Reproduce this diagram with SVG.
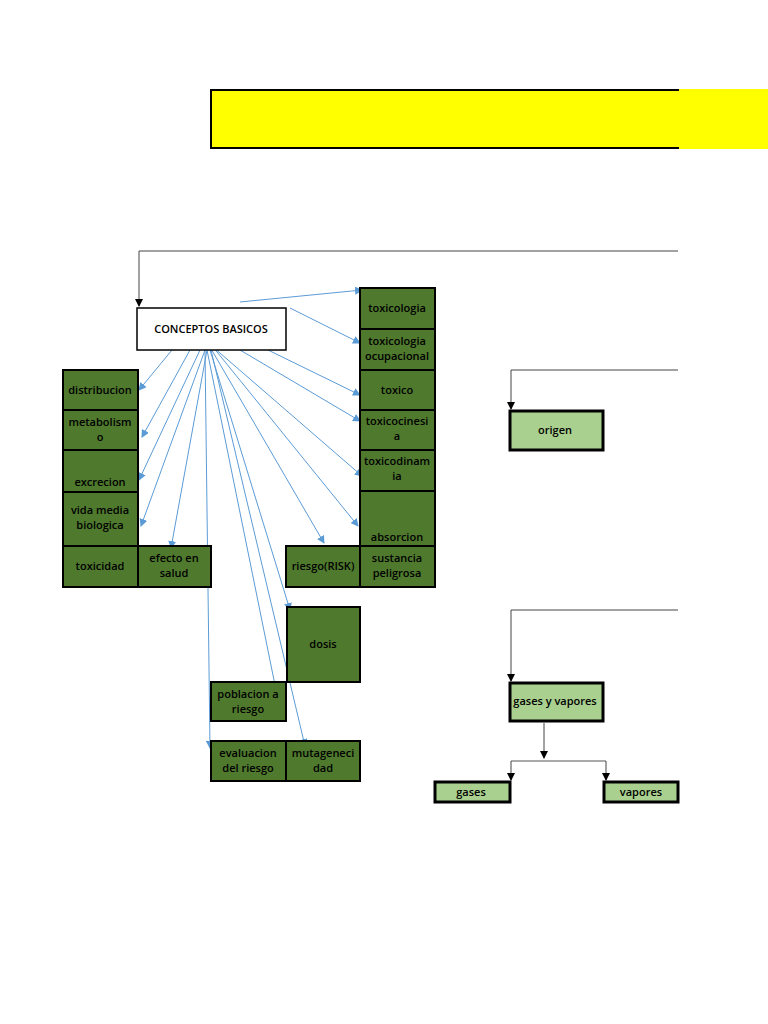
<svg xmlns="http://www.w3.org/2000/svg" width="768" height="1024" viewBox="0 0 768 1024">
<defs>
<marker id="b" markerWidth="8" markerHeight="8" refX="7" refY="4" orient="auto" markerUnits="userSpaceOnUse"><path d="M0,0L8,4L0,8z" fill="#5b9bd5"/></marker>
<marker id="k" markerWidth="8" markerHeight="8" refX="7" refY="4" orient="auto" markerUnits="userSpaceOnUse"><path d="M0,0L8,4L0,8z" fill="#000"/></marker>
</defs>
<style>
.d{fill:#4f7a2e;stroke:#000;stroke-width:2}
.l{fill:#a9d08e;stroke:#000;stroke-width:3}
text{font-family:"Open Sans","Liberation Sans",sans-serif;font-size:11px;font-weight:600;fill:#000;text-anchor:middle}
.bl{stroke:#5b9bd5;stroke-width:1;fill:none;marker-end:url(#b)}
.bk{stroke:#444;stroke-width:1;fill:none;marker-end:url(#k)}
.bn{stroke:#555;stroke-width:1;fill:none}
</style>
<rect x="678" y="89" width="90" height="60" fill="#ffff00"/>
<rect x="211" y="90" width="467" height="58" fill="#ffff00" stroke="#000" stroke-width="2"/>
<rect x="677" y="91" width="10" height="56" fill="#ffff00"/>
<g id="connectors">
<path class="bk" d="M678,251H139V306"/>
<path class="bk" d="M678,370H511V409"/>
<path class="bk" d="M678,610H511V681"/>
<path class="bk" d="M544,723V758"/>
<path class="bn" d="M511,761H606"/>
<path class="bk" d="M511,761V780"/>
<path class="bk" d="M606,761V780"/>
<path class="bl" d="M240,302L362,290"/>
<path class="bl" d="M290,308L360,343"/>
<path class="bl" d="M268,350L360,395"/>
<path class="bl" d="M240,350L360,421"/>
<path class="bl" d="M213,347L362,476"/>
<path class="bl" d="M213,347L358,526"/>
<path class="bl" d="M210,347L324,543"/>
<path class="bl" d="M172,350L139,390"/>
<path class="bl" d="M190,350L142,437"/>
<path class="bl" d="M200,350L139,480"/>
<path class="bl" d="M205,350L141,526"/>
<path class="bl" d="M207,350L171,548"/>
<path class="bl" d="M205,350L210,748"/>
<path class="bl" d="M207,350L276,690"/>
<path class="bl" d="M210,350L290,610"/>
<path class="bl" d="M211,350L305,746"/>
</g>
<g id="conceptos"><rect x="137" y="308" width="149" height="42" fill="#fff" stroke="#000" stroke-width="1.5"/><text x="211" y="333">CONCEPTOS BASICOS</text></g>
<g id="toxicologia"><rect class="d" x="360" y="288" width="75" height="41"/><text x="397" y="312">toxicologia</text></g>
<g id="toxocup"><rect class="d" x="360" y="329" width="75" height="41"/><text x="397" y="345">toxicologia</text><text x="397" y="360">ocupacional</text></g>
<g id="toxico"><rect class="d" x="360" y="370" width="75" height="40"/><text x="397" y="394">toxico</text></g>
<g id="toxicocinesia"><rect class="d" x="360" y="410" width="75" height="40"/><text x="397" y="425">toxicocinesi</text><text x="397" y="440">a</text></g>
<g id="toxicodinamia"><rect class="d" x="360" y="450" width="75" height="41"/><text x="397" y="465">toxicodinam</text><text x="397" y="480">ia</text></g>
<g id="absorcion"><rect class="d" x="360" y="491" width="75" height="55"/><text x="397" y="541">absorcion</text></g>
<g id="sustancia"><rect class="d" x="360" y="546" width="75" height="41"/><text x="397" y="562">sustancia</text><text x="397" y="577">peligrosa</text></g>
<g id="riesgo"><rect class="d" x="286" y="546" width="74" height="41"/><text x="323" y="570">riesgo(RISK)</text></g>
<g id="distribucion"><rect class="d" x="63" y="370" width="75" height="40"/><text x="100" y="394">distribucion</text></g>
<g id="metabolismo"><rect class="d" x="63" y="410" width="75" height="40"/><text x="100" y="426">metabolism</text><text x="100" y="441">o</text></g>
<g id="excrecion"><rect class="d" x="63" y="450" width="75" height="42"/><text x="100" y="486">excrecion</text></g>
<g id="vidamedia"><rect class="d" x="63" y="492" width="75" height="54"/><text x="100" y="514">vida media</text><text x="100" y="529">biologica</text></g>
<g id="toxicidad"><rect class="d" x="63" y="546" width="75" height="41"/><text x="100" y="570">toxicidad</text></g>
<g id="efecto"><rect class="d" x="138" y="546" width="73" height="41"/><text x="174" y="562">efecto en</text><text x="174" y="577">salud</text></g>
<g id="dosis"><rect class="d" x="287" y="607" width="73" height="75"/><text x="323" y="648">dosis</text></g>
<g id="poblacion"><rect class="d" x="211" y="682" width="75" height="39"/><text x="248" y="698">poblacion a</text><text x="248" y="713">riesgo</text></g>
<g id="evaluacion"><rect class="d" x="211" y="741" width="75" height="40"/><text x="248" y="757">evaluacion</text><text x="248" y="772">del riesgo</text></g>
<g id="mutagenecidad"><rect class="d" x="286" y="741" width="74" height="40"/><text x="323" y="757">mutageneci</text><text x="323" y="772">dad</text></g>
<g id="origen"><rect class="l" x="510" y="411" width="93" height="39"/><text x="555" y="434">origen</text></g>
<g id="gasesvapores"><rect class="l" x="510" y="683" width="93" height="38"/><text x="555" y="705">gases y vapores</text></g>
<g id="gases"><rect class="l" x="435" y="782" width="75" height="20"/><text x="471" y="796">gases</text></g>
<g id="vapores"><rect class="l" x="604" y="782" width="74" height="20"/><text x="641" y="796">vapores</text></g>
</svg>
